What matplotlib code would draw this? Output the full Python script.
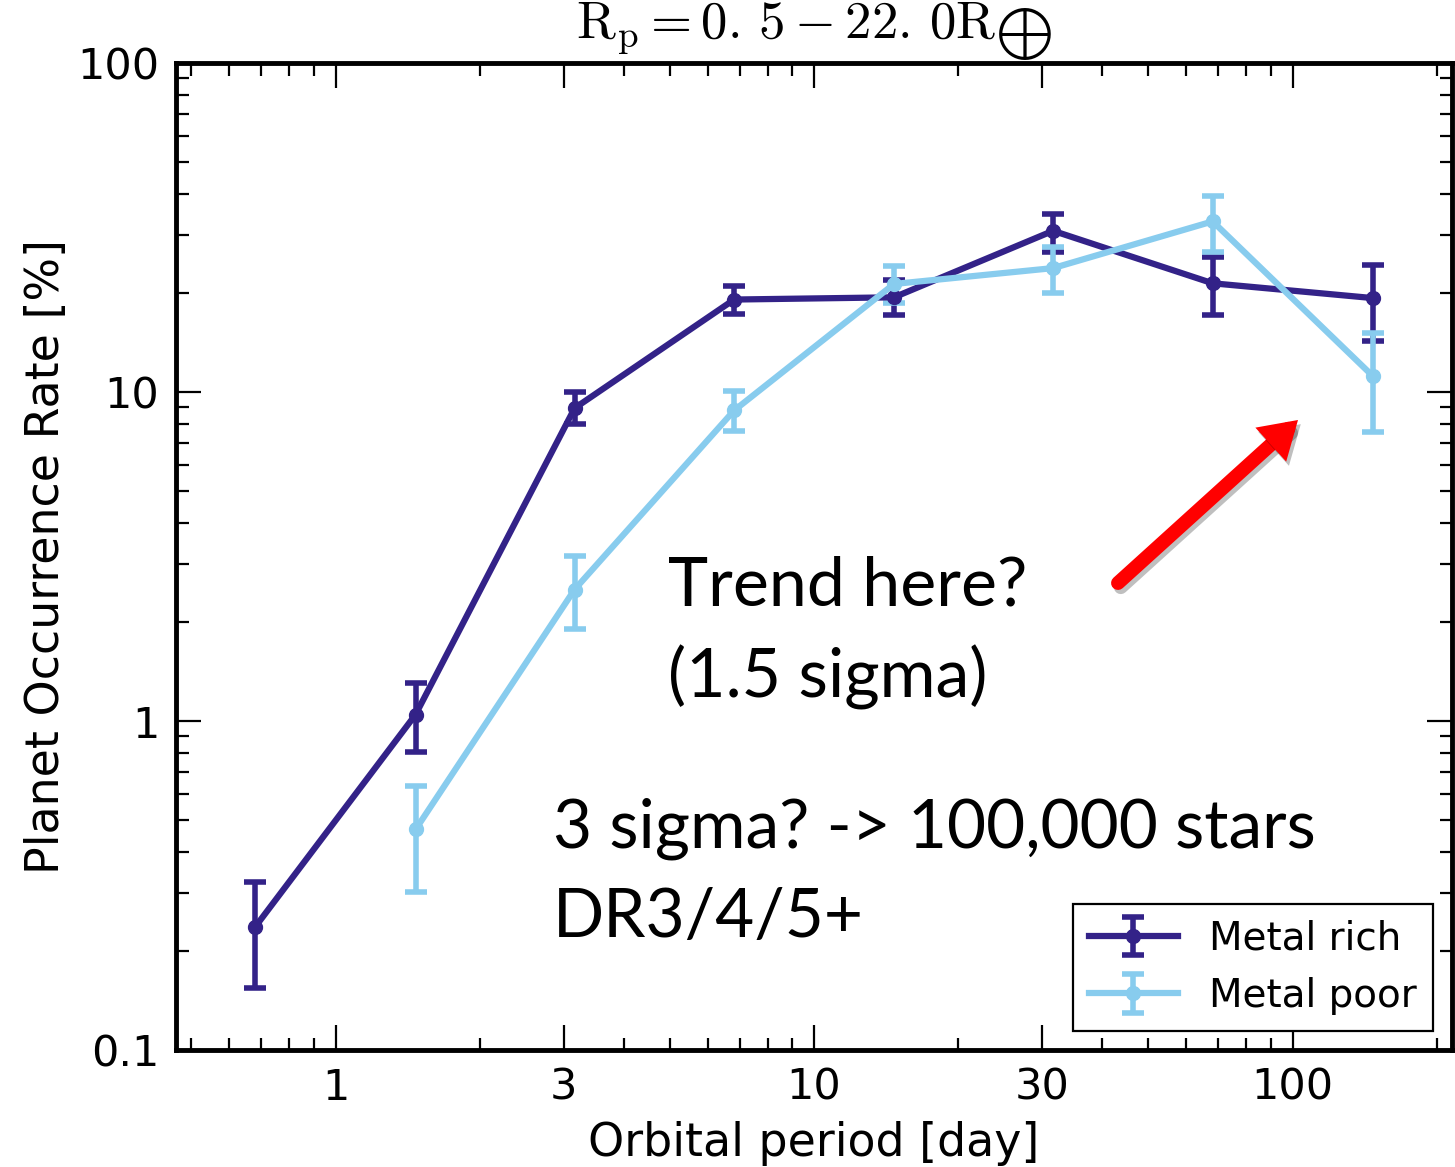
import matplotlib
matplotlib.use("Agg")
import matplotlib.pyplot as plt
import matplotlib.patheffects as pe
from matplotlib.ticker import FixedLocator, NullFormatter, FixedFormatter
import numpy as np

# ---- data ----
period_rich = [0.68, 1.47, 3.16, 6.81, 14.7, 31.6, 68.1, 147.0]
rate_rich = [0.237, 1.046, 8.93, 19.1, 19.4, 30.9, 21.4, 19.3]
rich_hi = [0.323, 1.306, 9.97, 21.0, 21.9, 34.7, 25.7, 24.3]
rich_lo = [0.154, 0.806, 7.99, 17.3, 17.2, 26.7, 17.2, 14.3]

period_poor = [1.47, 3.16, 6.81, 14.7, 31.6, 68.1, 147.0]
rate_poor = [0.468, 2.51, 8.79, 21.3, 23.8, 33.0, 11.2]
poor_hi = [0.634, 3.18, 10.1, 24.2, 27.5, 39.4, 15.1]
poor_lo = [0.303, 1.90, 7.59, 18.7, 20.05, 26.7, 7.55]

xticks = [1, 3, 10, 30, 100]
xticklabels = ["1", "3", "10", "30", "100"]
yticks = [0.1, 1, 10, 100]
yticklabels = ["0.1", "1", "10", "100"]

c_rich = "#332288"
c_poor = "#88CCEE"

plt.rcParams["mathtext.fontset"] = "cm"

fig = plt.figure(figsize=(14.55, 11.67), dpi=100)
ax = fig.add_axes([176 / 1455, 1 - 1050 / 1167, (1452 - 176) / 1455, (1050 - 63) / 1167])

def err(v, hi, lo):
    v = np.array(v); return [v - np.array(lo), np.array(hi) - v]

ax.errorbar(period_rich, rate_rich, yerr=err(rate_rich, rich_hi, rich_lo), color=c_rich,
            lw=4.5, marker="o", ms=10, capsize=8, capthick=4, elinewidth=4, label="Metal rich")
ax.errorbar(period_poor, rate_poor, yerr=err(rate_poor, poor_hi, poor_lo), color=c_poor,
            lw=4.5, marker="o", ms=10, capsize=8, capthick=4, elinewidth=4, label="Metal poor")

ax.set_xscale("log")
ax.set_yscale("log")
ax.set_xlim(10 ** (-1 / 3), 10 ** (7 / 3))
ax.set_ylim(0.1, 100)

ax.xaxis.set_major_locator(FixedLocator(xticks))
ax.xaxis.set_major_formatter(FixedFormatter(xticklabels))
xminor = [m * 10.0 ** e for e in range(-1, 3) for m in range(1, 10)]
xminor = [v for v in xminor if v not in xticks]
ax.xaxis.set_minor_locator(FixedLocator(xminor))
ax.xaxis.set_minor_formatter(NullFormatter())
ax.yaxis.set_major_locator(FixedLocator(yticks))
ax.yaxis.set_major_formatter(FixedFormatter(yticklabels))
ymin = [m * 10.0 ** e for e in range(-1, 2) for m in range(2, 10)]
ax.yaxis.set_minor_locator(FixedLocator(ymin))
ax.yaxis.set_minor_formatter(NullFormatter())

ax.tick_params(which="both", direction="in", top=True, right=True, labelsize=31, width=1.6, pad=12)
ax.tick_params(which="major", length=18)
ax.tick_params(which="minor", length=9)
for s in ax.spines.values():
    s.set_linewidth(3.5)

ax.set_xlabel("Orbital period [day]", fontsize=33, labelpad=9)
ax.set_ylabel("Planet Occurrence Rate [%]", fontsize=33, labelpad=6)
ax.set_title(r"$\mathrm{R_p = 0.\,5 - 22.\,0R_{\bigoplus}}$", fontsize=38, pad=2)

leg = ax.legend(loc="lower right", fontsize=28, frameon=True, fancybox=False,
                edgecolor="black", framealpha=1, handlelength=2.3, borderaxespad=0.5)
leg.get_frame().set_linewidth(1.6)

tfont = dict(family=["Lato", "DejaVu Sans"], color="black")
fig.text(668 / 1455, 1 - 605 / 1167, "Trend here?", fontsize=49, **tfont)
fig.text(668 / 1455, 1 - 697 / 1167, "(1.5 sigma)", fontsize=49, **tfont)
fig.text(553 / 1455, 1 - 847 / 1167, "3 sigma? -> 100,000 stars", fontsize=48.6, **tfont)
fig.text(553 / 1455, 1 - 937 / 1167, "DR3/4/5+", fontsize=48.6, **tfont)

ax.annotate("", xy=(1298 / 1455, 1 - 420 / 1167), xycoords="figure fraction",
            xytext=(1118 / 1455, 1 - 583 / 1167), textcoords="figure fraction",
            arrowprops=dict(arrowstyle="-|>,head_length=1.2,head_width=0.75", color="#ff0000",
                            lw=10, shrinkA=0, shrinkB=0, joinstyle="miter", capstyle="round",
                            path_effects=[pe.SimpleLineShadow(offset=(2, -3), alpha=0.25), pe.Normal()]))

fig.savefig("out.png", dpi=100)
